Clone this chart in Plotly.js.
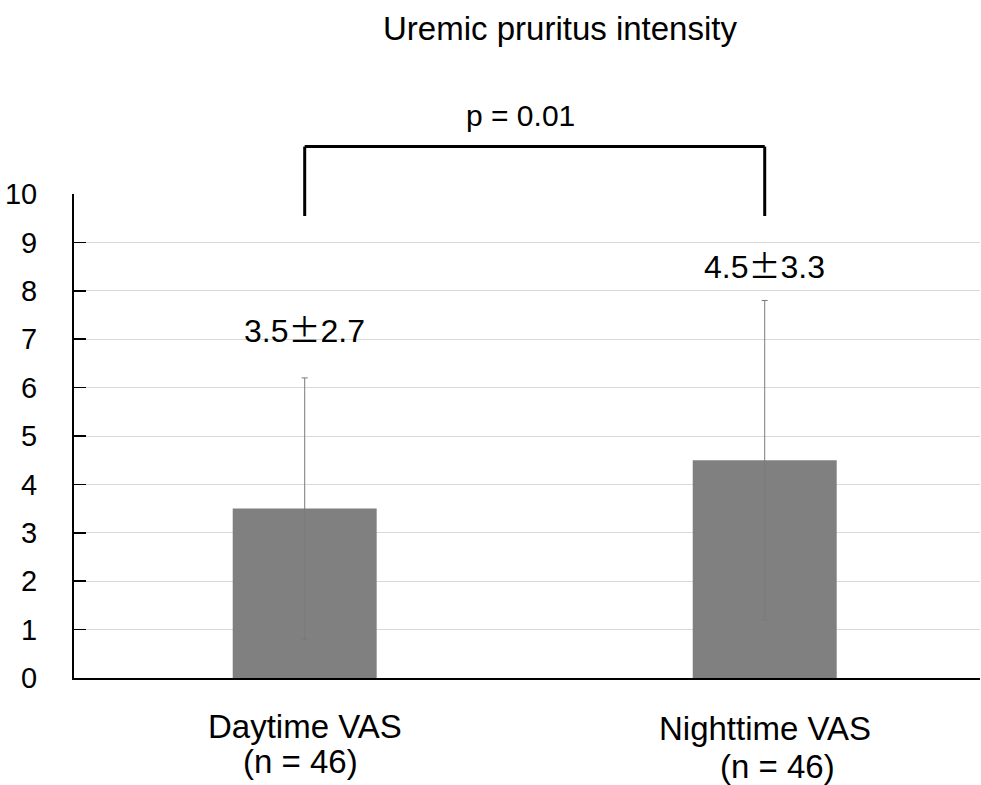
<!DOCTYPE html>
<html>
<head>
<meta charset="utf-8">
<script src="https://cdn.plot.ly/plotly-3.0.1.min.js"></script>
<style>html,body{margin:0;padding:0;background:#fff;}#chart{width:981px;height:785px;}</style>
</head>
<body>
<div id="chart"></div>
<script>
// Data
var categories = ['Daytime VAS', 'Nighttime VAS'];
var sampleSizes = [46, 46];
var means = [3.5, 4.5];
var sds = [2.7, 3.3];
var pValueText = 'p = 0.01';
var yTickVals = [0, 1, 2, 3, 4, 5, 6, 7, 8, 9, 10];

var FONT = 'Liberation Sans, Arial, sans-serif';
var xIdx = categories.map(function (c, i) { return i; });

var xRange = [-0.5015, 1.468];
function xPaper(v) { return (v - xRange[0]) / (xRange[1] - xRange[0]); }

var trace = {
  type: 'bar',
  x: xIdx,
  y: means,
  width: 0.313,
  marker: { color: '#808080' },
  error_y: { type: 'data', array: sds, visible: true, color: '#7a7a7a', thickness: 1, width: 3 },
  hoverinfo: 'none'
};

var annotations = [];
// value labels (mean ± SD)
var labelShift = [25, 11];
means.forEach(function (m, i) {
  annotations.push({
    x: i, y: m + sds[i], xref: 'x', yref: 'y',
    text: m.toFixed(1) + '<span style="font-family:\'Noto Sans CJK JP\'">±</span>' + sds[i].toFixed(1),
    showarrow: false, yanchor: 'bottom', yshift: labelShift[i],
    font: { family: FONT, size: 32, color: '#000' }
  });
});
// category labels (two lines)
var line1Shift = [-48, -50];
var line2Shift = [-83, -88];
var line2XShift = [-4, 13];
categories.forEach(function (c, i) {
  annotations.push({
    x: i, y: 0, xref: 'x', yref: 'paper', text: c, showarrow: false,
    xanchor: 'center', yanchor: 'middle', yshift: line1Shift[i],
    font: { family: FONT, size: 33, color: '#000' }
  });
  annotations.push({
    x: i, y: 0, xref: 'x', yref: 'paper', text: '(n = ' + sampleSizes[i] + ')', showarrow: false,
    xanchor: 'center', yanchor: 'middle', yshift: line2Shift[i], xshift: line2XShift[i],
    font: { family: FONT, size: 33, color: '#000' }
  });
});
annotations.push({
  x: (520 - 74) / 906, y: 1.162, xref: 'paper', yref: 'paper',
  text: pValueText, showarrow: false, xanchor: 'center', yanchor: 'middle',
  font: { family: FONT, size: 30, color: '#000' }
});

var brTop = 1.098, brBottom = 0.9545;
var shapes = [
  { type: 'line', xref: 'paper', yref: 'paper', x0: xPaper(0), x1: xPaper(0), y0: brBottom, y1: brTop, line: { color: '#000', width: 3 } },
  { type: 'line', xref: 'paper', yref: 'paper', x0: xPaper(0), x1: xPaper(1), y0: brTop, y1: brTop, line: { color: '#000', width: 3 } },
  { type: 'line', xref: 'paper', yref: 'paper', x0: xPaper(1), x1: xPaper(1), y0: brBottom, y1: brTop, line: { color: '#000', width: 3 } }
];

var layout = {
  width: 981, height: 785,
  margin: { l: 74, r: 1, t: 194, b: 107, pad: 0 },
  paper_bgcolor: '#fff', plot_bgcolor: '#fff',
  showlegend: false,
  title: {
    text: 'Uremic pruritus intensity',
    xref: 'container', x: 560 / 981, xanchor: 'center',
    yref: 'container', y: 1 - 28 / 785, yanchor: 'middle',
    font: { family: FONT, size: 33, color: '#000' }
  },
  xaxis: {
    range: xRange, tickvals: xIdx, showticklabels: false,
    showline: true, linecolor: '#000', linewidth: 2,
    showgrid: false, zeroline: false, ticks: '',
    fixedrange: true
  },
  yaxis: {
    range: [0, 10], tickvals: yTickVals,
    showline: true, linecolor: '#000', linewidth: 2,
    showgrid: true, gridcolor: '#d9d9d9', gridwidth: 1,
    zeroline: false,
    ticks: 'inside', ticklen: 12, tickwidth: 1.5, tickcolor: '#000',
    ticklabelstandoff: 29,
    tickfont: { family: FONT, size: 29, color: '#000' },
    fixedrange: true
  },
  annotations: annotations,
  shapes: shapes
};

Plotly.newPlot('chart', [trace], layout, { displayModeBar: false, staticPlot: true });
</script>
</body>
</html>
